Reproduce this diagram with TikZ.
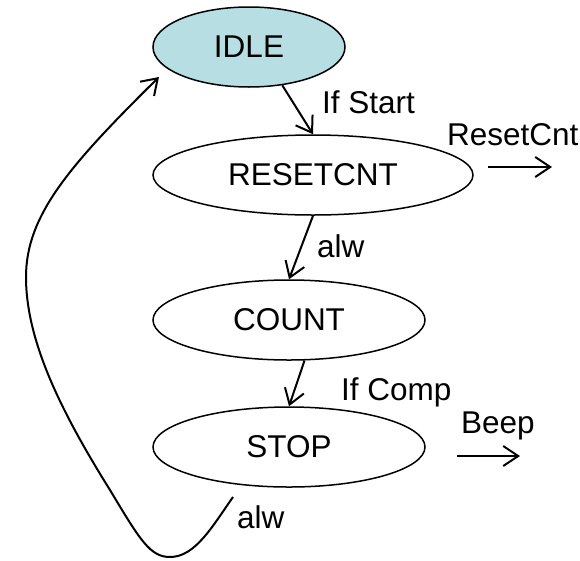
\documentclass[tikz,border=0pt]{standalone}
\usepackage{fontspec}
\setmainfont{Liberation Sans}
\usetikzlibrary{shapes.geometric,arrows.meta}
\definecolor{idlefill}{RGB}{183,222,226}
\tikzset{
  state/.style={ellipse, draw=black, line width=1.5pt, inner sep=0pt,
                minimum height=80pt},
  trans/.style={line width=2pt, -{Straight Barb[length=15pt,width=20pt,line width=2pt]}},
  lbl/.style={anchor=base west, inner sep=0pt},
}
\begin{document}
\begin{tikzpicture}[x=1pt,y=-1pt,font=\fontsize{31.5}{36}\selectfont]
\useasboundingbox (0,0) rectangle (580,560);

% states
\node[state, fill=idlefill, minimum width=192pt] (idle)  at (249,47)  {IDLE};
\node[state, minimum width=320pt] (reset) at (313,175) {RESETCNT};
\node[state, minimum width=272pt] (count) at (289,320) {COUNT};
\node[state, minimum width=272pt] (stop)  at (289,447) {STOP};

% transitions
\draw[trans] (idle.-49) -- (reset.north);
\draw[trans] (reset.south) -- (count.north);
\draw[trans] (count.-69) -- (stop.north);

% return path from STOP to IDLE
\coordinate (loopA) at (233,497);
\coordinate (loopB) at (159,77);
\draw[trans] (loopA) .. controls (212,527) and (195,557) .. (170,557)
   .. controls (150,557) and (140,540) .. (110,490)
   .. controls (60,410) and (26,340) .. (26,277)
   .. controls (26,215) and (70,165) .. (loopB);

% transition labels
\node[lbl] (lStart) at (322,113) {If Start};
\node[lbl] (lAlw1)  at (317,257) {alw};
\node[lbl] (lComp)  at (341,400) {If Comp};
\node[lbl] (lAlw2)  at (237,528) {alw};

% outputs
\node[lbl] (oReset) at (447,145) {ResetCnt};
\coordinate (oR1) at (488,167);
\coordinate (oR2) at (552,167);
\draw[trans] (oR1) -- (oR2);

\node[lbl] (oBeep) at (461,433) {Beep};
\coordinate (oB1) at (457,456);
\coordinate (oB2) at (520,456);
\draw[trans] (oB1) -- (oB2);
\end{tikzpicture}
\end{document}
